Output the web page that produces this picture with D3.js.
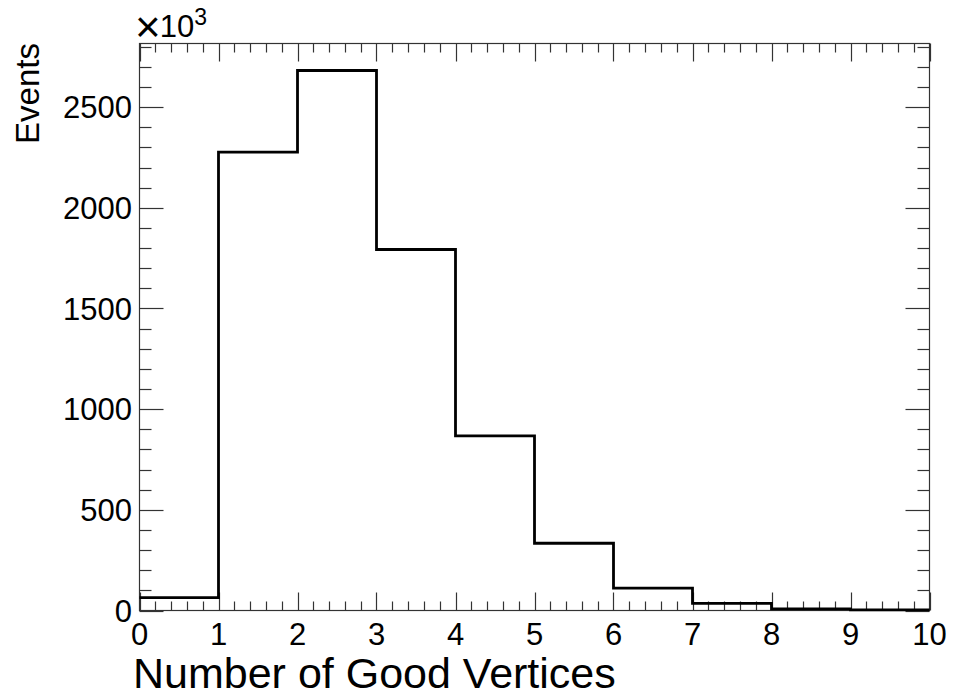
<!DOCTYPE html>
<html>
<head>
<meta charset="utf-8">
<script src="https://cdn.jsdelivr.net/npm/d3@7/dist/d3.min.js"></script>
<style>
  html, body { margin: 0; padding: 0; background: #fff; }
  svg { display: block; }
  text { font-family: "Liberation Sans", Arial, Helvetica, sans-serif; fill: #000; }
</style>
</head>
<body>
<svg id="chart" width="953" height="696"></svg>
<script>
// Histogram: number of good vertices per event (counts in thousands)
const binEdges = [0, 1, 2, 3, 4, 5, 6, 7, 8, 9, 10];
const counts = [64, 2277, 2682, 1793, 867, 334, 111, 35, 8, 3];
const xTickLabels = [0, 1, 2, 3, 4, 5, 6, 7, 8, 9, 10];
const yTickLabels = [0, 500, 1000, 1500, 2000, 2500];

const frame = { left: 139.5, right: 929.5, top: 43.5, bottom: 610.5 };
const yMax = d3.max(counts) * 1.05;

const svg = d3.select("#chart");

const x = d3.scaleLinear().domain([0, 10]).range([frame.left, frame.right]);
const y = d3.scaleLinear().domain([0, yMax]).range([frame.bottom, frame.top]);

const axisColor = "#333";

// frame
svg.append("rect")
  .attr("x", frame.left).attr("y", frame.top)
  .attr("width", frame.right - frame.left)
  .attr("height", frame.bottom - frame.top)
  .attr("fill", "none").attr("stroke", axisColor).attr("stroke-width", 1.2);

// minor / major tick positions
const xMinor = d3.range(0, 10.0001, 0.2).map(v => +v.toFixed(2));
const yMinor = d3.range(0, yMax, 100);

const ticks = svg.append("g").attr("stroke", axisColor).attr("stroke-width", 1.2);

xMinor.forEach(v => {
  const isMajor = Math.abs(v - Math.round(v)) < 1e-6;
  const len = isMajor ? 18 : 9;
  const px = Math.round(x(v)) + 0.5;
  ticks.append("line").attr("x1", px).attr("x2", px)
    .attr("y1", frame.bottom).attr("y2", frame.bottom - len);
  ticks.append("line").attr("x1", px).attr("x2", px)
    .attr("y1", frame.top).attr("y2", frame.top + len);
});

yMinor.forEach(v => {
  const isMajor = v % 500 === 0;
  const len = isMajor ? 24 : 12;
  const py = Math.round(y(v)) + 0.5;
  ticks.append("line").attr("x1", frame.left).attr("x2", frame.left + len)
    .attr("y1", py).attr("y2", py);
  ticks.append("line").attr("x1", frame.right).attr("x2", frame.right - len)
    .attr("y1", py).attr("y2", py);
});

// tick labels
svg.append("g").selectAll("text").data(xTickLabels).join("text")
  .attr("x", d => x(d)).attr("y", 645)
  .attr("text-anchor", "middle")
  .style("font-size", "31px")
  .text(d => d);

svg.append("g").selectAll("text").data(yTickLabels).join("text")
  .attr("x", 132).attr("y", d => y(d))
  .attr("dy", "0.36em")
  .attr("text-anchor", "end")
  .style("font-size", "31px")
  .text(d => d);

// exponent marker
const expo = svg.append("text").attr("x", 135).attr("y", 37).style("font-size", "31px");
expo.append("tspan").attr("dy", 5).style("font-size", "44px").style("font-weight", "300").text("\u00d7");
expo.append("tspan").attr("dy", -5).attr("dx", -1).text("10");
expo.append("tspan").attr("dy", -12).style("font-size", "23px").text("3");

// histogram outline
const path = d3.path();
path.moveTo(x(binEdges[0]), y(counts[0]));
counts.forEach((c, i) => {
  if (i > 0) path.lineTo(x(binEdges[i]), y(c));
  path.lineTo(x(binEdges[i + 1]), y(c));
});
svg.append("path")
  .attr("d", path.toString())
  .attr("fill", "none")
  .attr("stroke", "#000")
  .attr("stroke-width", 2.8)
  .attr("stroke-linejoin", "miter");

// axis titles
svg.append("text")
  .attr("x", 133).attr("y", 688)
  .style("font-size", "43px")
  .text("Number of Good Vertices");

svg.append("text")
  .attr("transform", "translate(39,43) rotate(-90)")
  .attr("text-anchor", "end")
  .style("font-size", "33px")
  .text("Events");
</script>
</body>
</html>
